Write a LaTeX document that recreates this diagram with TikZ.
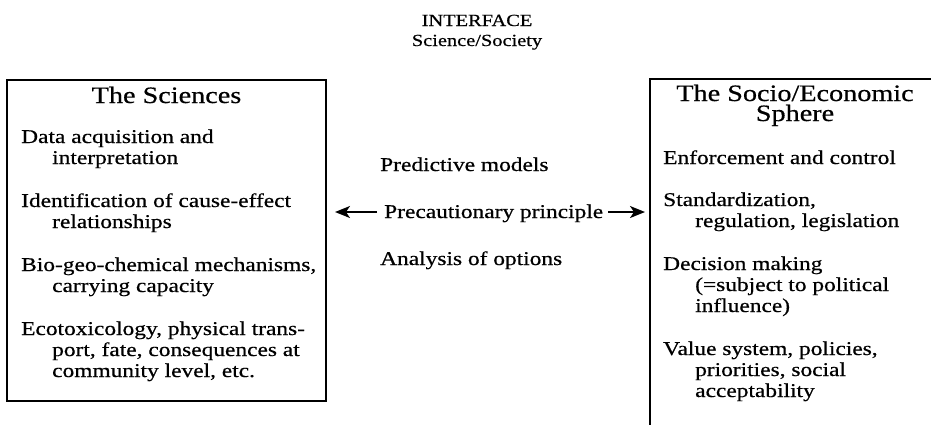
\documentclass[tikz,border=0pt]{standalone}
\usepackage{fontspec}
\setmainfont[FakeStretch=1.2, FakeBold=0.6]{Liberation Serif}
\usetikzlibrary{arrows.meta}
\newcommand\bodyf{\fontsize{19.5}{21}\selectfont}
\newcommand\titf{\fontsize{23.5}{20}\selectfont}
\newcommand\intf{\fontsize{17}{20}\selectfont}
\tikzset{
  boxline/.style={line width=1.1pt, line cap=rect},
  txt/.style={inner sep=0pt, anchor=base west, font=\bodyf},
  ttl/.style={inner sep=0pt, anchor=base, font=\titf},
  hdr/.style={inner sep=0pt, anchor=base, font=\intf},
  arr/.style={line width=2pt, -{Stealth[length=15pt, width=12pt, inset=4pt]}}
}
\begin{document}
\begin{tikzpicture}[x=1pt, y=-1pt]
\useasboundingbox (0,0) rectangle (931,424);
% header
\node[hdr] (h1) at (477,26) {INTERFACE};
\node[hdr] (h2) at (477,46) {Science/Society};
% left box
\draw[boxline] (7,80) rectangle (326,401);
\node[ttl] (st) at (166.5,103) {The Sciences};
\node[txt] (l1) at (21,143) {Data acquisition and};
\node[txt] (l2) at (52,164) {interpretation};
\node[txt] (l3) at (21,207) {Identification of cause-effect};
\node[txt] (l4) at (52,228) {relationships};
\node[txt] (l5) at (21,271) {Bio-geo-chemical mechanisms,};
\node[txt] (l6) at (52,292) {carrying capacity};
\node[txt] (l7) at (21,335) {Ecotoxicology, physical trans-};
\node[txt] (l8) at (52,356) {port, fate, consequences at};
\node[txt] (l9) at (52,377) {community level, etc.};
% right box (cut off by the picture edge)
\draw[boxline] (931,79) -- (650,79) -- (650,424);
\node[inner sep=0pt, anchor=north, font=\titf, align=center] (rt) at (795,84.5)
  {The Socio/Economic\\Sphere};
\node[txt] (r1) at (663,164) {Enforcement and control};
\node[txt] (r2) at (663,206) {Standardization,};
\node[txt] (r3) at (695,227) {regulation, legislation};
\node[txt] (r4) at (663,270) {Decision making};
\node[txt] (r5) at (695,291) {(=subject to political};
\node[txt] (r6) at (695,312) {influence)};
\node[txt] (r7) at (663,355) {Value system, policies,};
\node[txt] (r8) at (695,376) {priorities, social};
\node[txt] (r9) at (695,397) {acceptability};
% middle
\node[txt] (m1) at (380,171) {Predictive models};
\node[txt] (m2) at (384,218) {Precautionary principle};
\node[txt] (m3) at (380,265) {Analysis of options};
\coordinate (la) at (335,212);
\coordinate (ra) at (645,212);
\draw[arr] (m2.west |- la) ++(-7,0) -- (la);
\draw[arr] (m2.east |- ra) ++(5,0) -- (ra);
\end{tikzpicture}
\end{document}
